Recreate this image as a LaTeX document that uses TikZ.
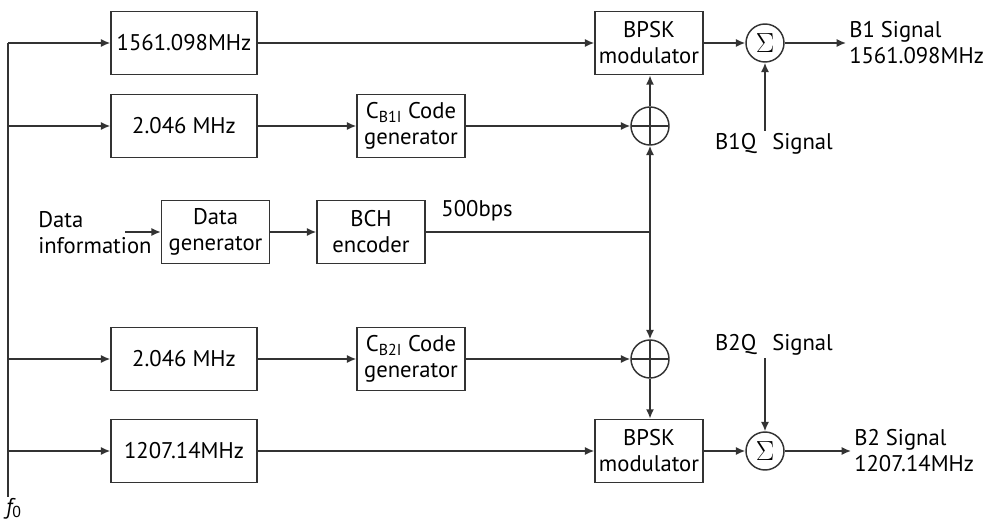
\documentclass[tikz,border=0pt]{standalone}
\usepackage{fontspec}
\setmainfont{PT Sans}
\usetikzlibrary{arrows.meta}
\definecolor{ink}{HTML}{333333}
\begin{document}
\begin{tikzpicture}[x=0.75pt,y=-0.75pt,
  every node/.style={font=\fontsize{17}{19.5}\selectfont, text=black},
  line/.style={draw=ink, line width=1.1pt},
  arr/.style={line, -{Latex[length=7pt,width=6pt]}},
  blk/.style={draw=ink, line width=1.1pt, align=center, inner sep=0pt, minimum height=47.5pt},
  wide/.style={blk, minimum width=109.5pt},
  narrow/.style={blk, minimum width=81pt},
  xorc/.style={circle, draw=ink, line width=1.1pt, minimum size=28.5pt, inner sep=0pt,
    path picture={\draw[ink, line width=1.1pt] (path picture bounding box.north) -- (path picture bounding box.south) (path picture bounding box.west) -- (path picture bounding box.east);}},
  sumc/.style={circle, draw=ink, line width=1.1pt, minimum size=28.5pt, inner sep=0pt, font=\fontsize{20}{20}\selectfont},
  lbl/.style={align=left, inner sep=0pt}
]
\useasboundingbox (0,0) rectangle (996,520);
% trunk
\coordinate (ttop) at (8,43);
\coordinate (tbot) at (8,497);
\coordinate (j2) at (8,126);
\coordinate (j4) at (8,359);
\coordinate (j5) at (8,451);
\draw[line] (ttop) -- (tbot);
\node[inner sep=0pt, anchor=south] (f0) at (14,519) {\itshape f\textsubscript{\upshape 0}};
% row 1
\node[wide] (b1) at (184,43) {1561.098MHz};
\node[narrow] (m1) at (649,43) {BPSK\\modulator};
\node[sumc] (s1) at (765,43) {$\Sigma$};
\coordinate (o1) at (846,43);
\node[lbl, anchor=west] (t1) at (849,43) {B1 Signal\\1561.098MHz};
% row 2
\node[wide] (b2) at (184,126) {2.046 MHz};
\node[narrow] (c1) at (411,126) {C\textsubscript{B1I} Code\\generator};
\node[xorc] (x1) at (650,126) {};
\node[inner sep=0pt] (q1) at (774,144) {B1Q\hspace{12pt}Signal};
% row 3
\node[lbl, anchor=west] (din) at (38,233) {Data\\information};
\coordinate (dinr) at (125,232);
\node[narrow] (dg) at (215.5,232) {Data\\generator};
\node[narrow] (bch) at (371,232) {BCH\\encoder};
\node[inner sep=0pt] (bps) at (477,211) {500bps};
\coordinate (jn) at (650,232);
% row 4
\node[wide] (b4) at (184,359) {2.046 MHz};
\node[narrow] (c2) at (411,359) {C\textsubscript{B2I} Code\\generator};
\node[xorc] (x2) at (650,359) {};
\node[inner sep=0pt] (q2) at (774,345) {B2Q\hspace{12pt}Signal};
% row 5
\node[wide] (b5) at (184,451) {1207.14MHz};
\node[narrow] (m2) at (649,451) {BPSK\\modulator};
\node[sumc] (s2) at (765,451) {$\Sigma$};
\coordinate (o2) at (851,451);
\node[lbl, anchor=west] (t2) at (854,451) {B2 Signal\\1207.14MHz};
% connectors
\draw[arr] (ttop) -- (b1.west);
\draw[arr] (j2) -- (b2.west);
\draw[arr] (j4) -- (b4.west);
\draw[arr] (j5) -- (b5.west);
\draw[arr] (b1.east) -- (m1.west);
\draw[arr] (m1.east) -- (s1.west);
\draw[arr] (s1.east) -- (o1);
\draw[arr] ([yshift=2pt]q1.north -| s1) -- (s1.south);
\draw[arr] (b2.east) -- (c1.west);
\draw[arr] (c1.east) -- (x1.west);
\draw[arr] (x1.north) -- (x1.north |- m1.south);
\draw[arr] (dinr) -- (dg.west);
\draw[arr] (dg.east) -- (bch.west);
\draw[line] (bch.east) -- (jn);
\draw[arr] (jn) -- (x1.south);
\draw[arr] (jn) -- (x2.north);
\draw[arr] (b4.east) -- (c2.west);
\draw[arr] (c2.east) -- (x2.west);
\draw[arr] (x2.south) -- (x2.south |- m2.north);
\draw[arr] (b5.east) -- (m2.west);
\draw[arr] (m2.east) -- (s2.west);
\draw[arr] (s2.east) -- (o2);
\draw[arr] ([yshift=-2pt]q2.south -| s2) -- (s2.north);
\end{tikzpicture}
\end{document}
